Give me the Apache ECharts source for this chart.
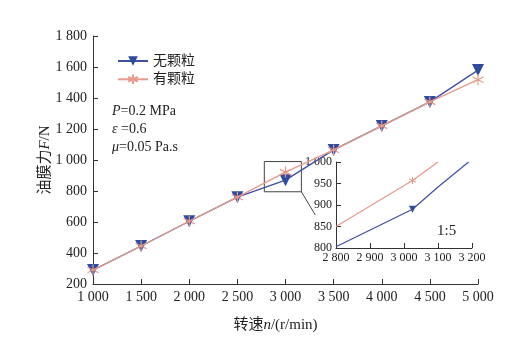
<!DOCTYPE html>
<html><head><meta charset="utf-8">
<script src="https://cdn.jsdelivr.net/npm/echarts@6/dist/echarts.min.js"></script>
<style>html,body{margin:0;padding:0;background:#fff}#c{width:510px;height:353px}</style>
</head><body><div id="c"></div>
<script>
const speeds = [1000,1500,2000,2500,3000,3500,4000,4500,5000];
const noParticle = [290,445,605,760,870,1065,1220,1375,1580];
const withParticle = [290,445,605,760,922,1065,1220,1375,1518];
const insetNoX = [2800,3025,3100,3190];
const insetNoY = [803,890,942,1000];
const insetWithX = [2800,3025,3100];
const insetWithY = [850,957,1000];
const insetMarkerIdx = 1;
const legendNames = ['无颗粒','有颗粒'];

const BLUE = '#3f4fa3', BLUE_M = '#2f4c9e', RED = '#e79a8a';
const STAR = 'path://M0,-10L0,10M-8.66,-5L8.66,5M-8.66,5L8.66,-5';
const FONT = '"Liberation Serif", "Noto Sans CJK SC", serif';
function fmt(v){ return v >= 1000 ? String(v).replace(/\B(?=(\d{3})+(?!\d))/g,' ') : String(v); }
const italic = {i:{fontStyle:'italic', fontSize:15, fontFamily:FONT, color:'#222'}};

const chart = echarts.init(document.getElementById('c'));
chart.setOption({
  animation:false,
  textStyle:{fontFamily:FONT},
  grid:[
    {left:93, top:36, width:385, height:248},
    {left:336, top:162, width:136, height:86}
  ],
  legend:{
    left:112, top:49, orient:'vertical', itemGap:4, itemWidth:30, itemHeight:12,
    data:legendNames,
    textStyle:{fontSize:14, color:'#222', fontFamily:FONT}
  },
  xAxis:[
    {gridIndex:0, type:'value', min:1000, max:5000, interval:500,
     name:'转速{i|n}/(r/min)', nameLocation:'middle', nameGap:34, nameMoveOverlap:false,
     nameTextStyle:{fontSize:15, color:'#222', fontFamily:FONT, padding:[0,20,0,0], rich:italic},
     axisLine:{lineStyle:{color:'#333', width:1}},
     axisTick:{inside:true, length:5, lineStyle:{color:'#333'}},
     axisLabel:{fontSize:14, color:'#222', formatter:fmt, margin:6, fontFamily:FONT},
     splitLine:{show:false}},
    {gridIndex:1, type:'value', min:2800, max:3200, interval:100,
     axisLine:{lineStyle:{color:'#333', width:1}},
     axisTick:{inside:true, length:5, lineStyle:{color:'#333'}},
     axisLabel:{fontSize:12, color:'#222', formatter:fmt, margin:4, fontFamily:FONT},
     splitLine:{show:false}}
  ],
  yAxis:[
    {gridIndex:0, type:'value', min:200, max:1800, interval:200,
     name:'油膜力{i|F}/N', nameLocation:'middle', nameGap:40, nameRotate:90, nameMoveOverlap:false,
     nameTextStyle:{fontSize:15, color:'#222', fontFamily:FONT, rich:italic},
     axisLine:{show:true, lineStyle:{color:'#333', width:1}},
     axisTick:{show:true, inside:true, length:5, lineStyle:{color:'#333'}},
     axisLabel:{fontSize:14, color:'#222', formatter:fmt, margin:6, fontFamily:FONT},
     splitLine:{show:false}},
    {gridIndex:1, type:'value', min:800, max:1000, interval:50,
     axisLine:{show:true, lineStyle:{color:'#333', width:1}},
     axisTick:{show:true, inside:true, length:5, lineStyle:{color:'#333'}},
     axisLabel:{fontSize:12, color:'#222', formatter:fmt, margin:4, fontFamily:FONT},
     splitLine:{show:false}}
  ],
  series:[
    {name:legendNames[0], type:'line', xAxisIndex:0, yAxisIndex:0,
     data:speeds.map((x,i)=>[x,noParticle[i]]),
     symbol:'triangle', symbolRotate:180, symbolSize:12,
     lineStyle:{color:BLUE, width:1.3}, itemStyle:{color:BLUE_M},
     markArea:{silent:true, itemStyle:{color:'rgba(0,0,0,0)', borderColor:'#444', borderWidth:1},
       data:[[{coord:[2780,795]},{coord:[3165,990]}]]},
     markLine:{silent:true, symbol:'none', label:{show:false},
       lineStyle:{color:'#444', type:'solid', width:1},
       data:[[{coord:[3165,795]},{coord:[3310,645]}]]},
     z:3},
    {name:legendNames[1], type:'line', xAxisIndex:0, yAxisIndex:0,
     data:speeds.map((x,i)=>[x,withParticle[i]]),
     symbol:STAR, symbolSize:11,
     lineStyle:{color:RED, width:1.3},
     itemStyle:{color:'none', borderColor:RED, borderWidth:1.2}, z:4},
    {type:'line', xAxisIndex:1, yAxisIndex:1,
     data:insetNoX.map((x,i)=>({value:[x,insetNoY[i]], symbol: i===insetMarkerIdx?'triangle':'none'})),
     symbolRotate:180, symbolSize:7,
     lineStyle:{color:BLUE, width:1.2}, itemStyle:{color:BLUE_M}},
    {type:'line', xAxisIndex:1, yAxisIndex:1,
     data:insetWithX.map((x,i)=>({value:[x,insetWithY[i]], symbol: i===insetMarkerIdx?STAR:'none'})),
     symbolSize:7,
     lineStyle:{color:RED, width:1.2},
     itemStyle:{color:'none', borderColor:RED, borderWidth:1}}
  ],
  graphic:[
    {type:'text', left:112, top:102, style:{
      text:'{i|P}=0.2 MPa\n{i|ε} =0.6\n{i|μ}=0.05 Pa.s',
      font:'14px '+FONT, fill:'#222', lineHeight:18,
      rich:{i:{fontStyle:'italic', fontSize:14, fontFamily:FONT, fill:'#222'}}}},
    {type:'text', left:437, top:224, style:{text:'1:5', font:'15px '+FONT, fill:'#222'}}
  ]
});
</script></body></html>
